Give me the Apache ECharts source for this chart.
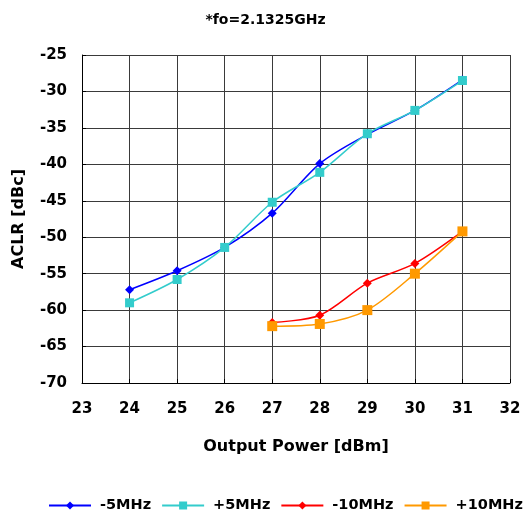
<!DOCTYPE html>
<html><head><meta charset="utf-8">
<script src="https://cdn.jsdelivr.net/npm/echarts@6/dist/echarts.min.js"></script>
<style>html,body{margin:0;padding:0;background:#fff}#c{width:531px;height:515px}</style>
</head><body><div id="c"></div>
<script>
const xValues = [24, 25, 26, 27, 28, 29, 30, 31];
const minus5 = [-57.2, -54.6, -51.4, -46.7, -39.9, -35.9, -32.6, -28.4];
const plus5 = [-59.0, -55.8, -51.4, -45.2, -41.1, -35.8, -32.6, -28.5];
const x10 = [27, 28, 29, 30, 31];
const minus10 = [-61.7, -60.7, -56.3, -53.6, -49.2];
const plus10 = [-62.2, -61.9, -60.0, -55.0, -49.2];
const seriesNames = ['-5MHz', '+5MHz', '-10MHz', '+10MHz'];

const zip = (xs, ys) => xs.map((x, i) => [x, ys[i]]);
const font = '"DejaVu Sans", sans-serif';
const chart = echarts.init(document.getElementById('c'));
function mk(name, xs, ys, color, symbol, size) {
  return {
    name, type: 'line', data: zip(xs, ys), smooth: 0.3,
    symbol, symbolSize: size,
    lineStyle: { color, width: 1.5 },
    itemStyle: { color },
    animation: false
  };
}
chart.setOption({
  animation: false,
  title: { text: '*fo=2.1325GHz', left: 'center', top: 8,
    textStyle: { fontFamily: font, fontSize: 14, fontWeight: 'bold', color: '#000' } },
  grid: { left: 82, right: 21, top: 55, bottom: 132 },
  xAxis: {
    type: 'value', min: 23, max: 32, interval: 1,
    name: 'Output Power [dBm]', nameLocation: 'middle', nameGap: 56,
    nameTextStyle: { fontFamily: font, fontSize: 16, fontWeight: 'bold', color: '#000' },
    axisLine: { lineStyle: { color: '#000', width: 1 } },
    axisTick: { show: true, inside: true, length: 4, lineStyle: { color: '#000' } },
    axisLabel: { fontFamily: font, fontSize: 15, fontWeight: 'bold', color: '#000', margin: 19 },
    splitLine: { show: true, lineStyle: { color: '#3a3a3a', width: 1 } }
  },
  yAxis: {
    type: 'value', min: -70, max: -25, interval: 5,
    name: 'ACLR [dBc]', nameLocation: 'middle', nameGap: 55, nameRotate: 90,
    nameTextStyle: { fontFamily: font, fontSize: 16, fontWeight: 'bold', color: '#000' },
    axisLine: { show: true, lineStyle: { color: '#000', width: 1 } },
    axisTick: { show: true, inside: true, length: 4, lineStyle: { color: '#000' } },
    axisLabel: { fontFamily: font, fontSize: 15, fontWeight: 'bold', color: '#000', margin: 15 },
    splitLine: { show: true, lineStyle: { color: '#3a3a3a', width: 1 } }
  },
  legend: {
    data: seriesNames, bottom: 2, left: 48, width: 500, padding: 0,
    itemWidth: 42, itemHeight: 10, itemGap: 10,
    textStyle: { fontFamily: font, fontSize: 14.5, fontWeight: 'bold', color: '#000', padding: [0, 0, 0, 4] }
  },
  series: [
    mk(seriesNames[0], xValues, minus5, '#0000ff', 'diamond', 9),
    mk(seriesNames[1], xValues, plus5, '#33cccc', 'rect', 9),
    mk(seriesNames[2], x10, minus10, '#ff0000', 'diamond', 9),
    mk(seriesNames[3], x10, plus10, '#ff9900', 'rect', 10)
  ]
});
</script></body></html>
